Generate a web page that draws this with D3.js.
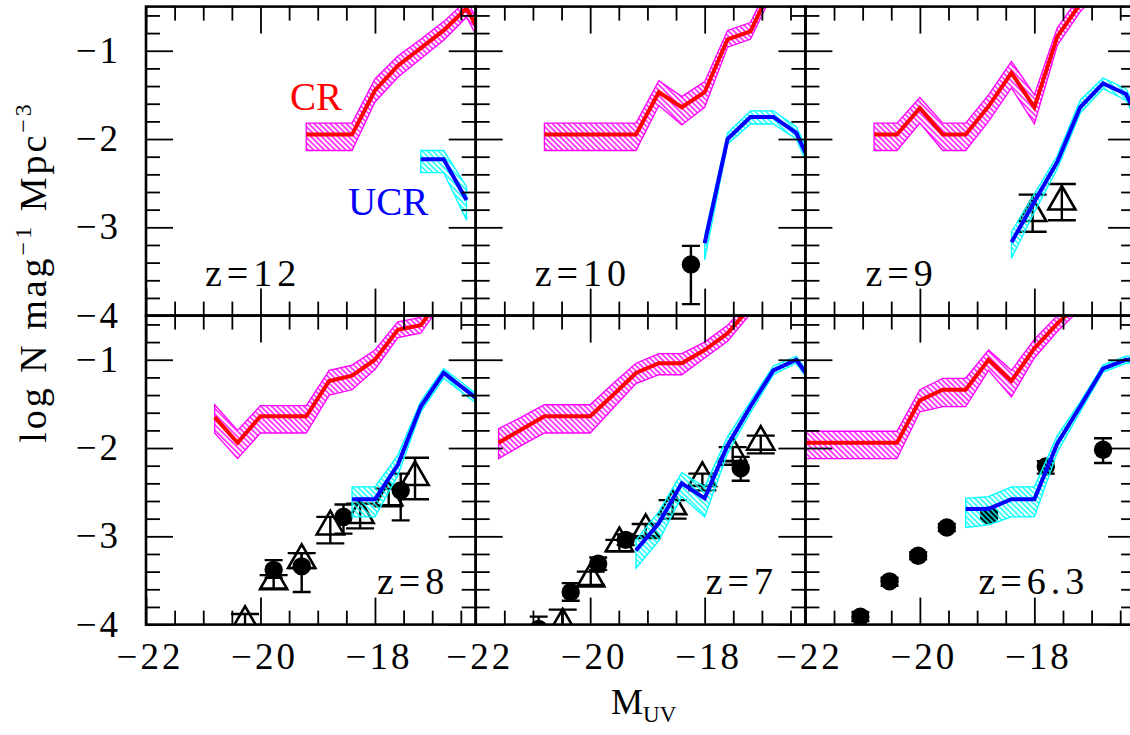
<!DOCTYPE html>
<html><head><meta charset="utf-8">
<script src="https://cdn.jsdelivr.net/npm/d3@7"></script>
<style>
body{margin:0;background:#fff;}
svg text{font-family:"Liberation Serif","DejaVu Serif",serif;}
</style></head><body>
<svg id="chart" width="1130" height="735"></svg>
<script>
// ---- model luminosity functions: [M_UV, log N, upper edge, lower edge] ----
const crZ12 = [[-19.2,-1.95,-1.82,-2.13],[-18.8,-1.95,-1.82,-2.13],[-18.4,-1.95,-1.82,-2.13],[-18.0,-1.45,-1.32,-1.58],[-17.6,-1.17,-1.06,-1.30],[-17.2,-0.97,-0.87,-1.09],[-16.8,-0.77,-0.67,-0.88],[-16.4,-0.52,-0.43,-0.62],[-16.0,-1.0,-0.9,-1.1]];
const ucrZ12 = [[-17.2,-2.23,-2.13,-2.38],[-16.8,-2.23,-2.13,-2.38],[-16.4,-2.69,-2.54,-2.92]];

const crZ10 = [[-20.8,-1.95,-1.82,-2.13],[-20.4,-1.95,-1.82,-2.13],[-20.0,-1.95,-1.82,-2.13],[-19.6,-1.95,-1.82,-2.13],[-19.2,-1.95,-1.82,-2.13],[-18.8,-1.47,-1.34,-1.62],[-18.4,-1.64,-1.52,-1.84],[-18.0,-1.47,-1.35,-1.64],[-17.6,-0.87,-0.77,-0.96],[-17.2,-0.78,-0.68,-0.87],[-16.8,-0.24,-0.15,-0.33],[-16.4,-0.10,-0.02,-0.18]];
const ucrZ10 = [[-18.0,-3.18,-3.10,-3.37],[-17.6,-2.00,-1.93,-2.06],[-17.2,-1.75,-1.68,-1.83],[-16.8,-1.75,-1.68,-1.83],[-16.4,-1.93,-1.86,-2.00],[-16.0,-2.49,-2.40,-2.60]];

const crZ9 = [[-20.8,-1.95,-1.82,-2.13],[-20.4,-1.95,-1.82,-2.13],[-20.0,-1.65,-1.53,-1.82],[-19.6,-1.95,-1.82,-2.13],[-19.2,-1.95,-1.82,-2.13],[-18.8,-1.63,-1.50,-1.80],[-18.4,-1.25,-1.12,-1.42],[-18.0,-1.64,-1.50,-1.83],[-17.6,-0.84,-0.74,-0.94],[-17.2,-0.47,-0.38,-0.56],[-16.8,-0.20,-0.12,-0.28]];
const ucrZ9 = [[-18.4,-3.17,-3.05,-3.35],[-18.0,-2.71,-2.62,-2.83],[-17.6,-2.26,-2.19,-2.34],[-17.2,-1.64,-1.56,-1.71],[-16.8,-1.37,-1.31,-1.43],[-16.4,-1.49,-1.43,-1.56],[-16.0,-2.00,-1.92,-2.08]];

const crZ8 = [[-20.8,-1.65,-1.51,-1.83],[-20.4,-1.94,-1.80,-2.12],[-20.0,-1.64,-1.52,-1.83],[-19.6,-1.64,-1.52,-1.83],[-19.2,-1.64,-1.52,-1.83],[-18.8,-1.24,-1.12,-1.40],[-18.4,-1.18,-1.06,-1.34],[-18.0,-1.00,-0.89,-1.11],[-17.6,-0.66,-0.57,-0.75],[-17.2,-0.61,-0.52,-0.70],[-16.8,-0.25,-0.17,-0.33]];
const ucrZ8 = [[-18.4,-2.58,-2.44,-2.78],[-18.0,-2.58,-2.44,-2.78],[-17.6,-2.19,-2.08,-2.31],[-17.2,-1.53,-1.47,-1.59],[-16.8,-1.15,-1.10,-1.21],[-16.4,-1.35,-1.30,-1.41],[-16.0,-1.55,-1.50,-1.61]];

const crZ7 = [[-21.6,-1.94,-1.78,-2.12],[-21.2,-1.79,-1.65,-1.97],[-20.8,-1.64,-1.51,-1.83],[-20.4,-1.64,-1.51,-1.83],[-20.0,-1.64,-1.51,-1.83],[-19.6,-1.40,-1.27,-1.55],[-19.2,-1.15,-1.04,-1.27],[-18.8,-1.04,-0.93,-1.17],[-18.4,-1.04,-0.93,-1.17],[-18.0,-0.89,-0.80,-0.98],[-17.6,-0.70,-0.61,-0.79],[-17.2,-0.40,-0.32,-0.48],[-16.8,-0.10,-0.02,-0.18]];
const ucrZ7 = [[-19.2,-3.16,-3.04,-3.36],[-18.8,-2.85,-2.72,-3.05],[-18.4,-2.40,-2.28,-2.55],[-18.0,-2.57,-2.44,-2.78],[-17.6,-1.97,-1.87,-2.06],[-17.2,-1.53,-1.47,-1.60],[-16.8,-1.12,-1.07,-1.17],[-16.4,-1.00,-0.96,-1.04],[-16.0,-1.36,-1.31,-1.41]];

const crZ63 = [[-22.4,-1.94,-1.81,-2.12],[-22.0,-1.94,-1.81,-2.12],[-21.6,-1.94,-1.81,-2.12],[-21.2,-1.94,-1.81,-2.12],[-20.8,-1.94,-1.81,-2.12],[-20.4,-1.94,-1.81,-2.12],[-20.0,-1.46,-1.34,-1.59],[-19.6,-1.34,-1.21,-1.53],[-19.2,-1.34,-1.21,-1.53],[-18.8,-1.00,-0.89,-1.12],[-18.4,-1.24,-1.12,-1.42],[-18.0,-0.87,-0.77,-0.98],[-17.6,-0.59,-0.50,-0.68],[-17.2,-0.35,-0.27,-0.43]];
const ucrZ63 = [[-19.2,-2.69,-2.57,-2.90],[-18.8,-2.69,-2.55,-2.87],[-18.4,-2.58,-2.44,-2.78],[-18.0,-2.58,-2.44,-2.78],[-17.6,-1.95,-1.86,-2.05],[-17.2,-1.53,-1.48,-1.59],[-16.8,-1.10,-1.06,-1.14],[-16.4,-1.00,-0.96,-1.04],[-16.0,-1.00,-0.96,-1.04]];

// ---- observations: [M_UV, log N, error-bar top, error-bar bottom] ----
const circZ10 = [[-18.24,-3.42,-3.21,-3.87]];
const triZ9 = [[-18.03,-2.84,-2.63,-3.05],[-17.52,-2.71,-2.51,-2.92]];
const circZ8 = [[-19.77,-3.38,-3.27,-3.47],[-19.28,-3.34,-3.19,-3.63],[-18.55,-2.78,-2.64,-2.97],[-17.55,-2.48,-2.29,-2.82]];
const triZ8 = [[-20.27,-3.97,-3.88,-4.10],[-19.77,-3.51,-3.44,-3.59],[-19.28,-3.27,-3.19,-3.36],[-18.78,-2.89,-2.78,-3.08],[-18.26,-2.76,-2.63,-2.91],[-17.76,-2.56,-2.46,-2.66],[-17.30,-2.33,-2.11,-2.58]];
const circZ7 = [[-20.90,-4.05,-3.91,-4.20],[-20.34,-3.63,-3.53,-3.73],[-19.86,-3.31,-3.24,-3.38],[-19.38,-3.04,-2.98,-3.10],[-17.37,-2.23,-2.10,-2.37]];
const triZ7 = [[-20.48,-4.00,-3.83,-4.20],[-19.99,-3.48,-3.40,-3.55],[-19.49,-3.08,-3.04,-3.17],[-19.03,-2.93,-2.86,-3.00],[-18.56,-2.66,-2.59,-2.80],[-18.04,-2.34,-2.29,-2.48],[-17.51,-2.06,-1.99,-2.19],[-17.02,-1.93,-1.86,-2.06]];
const circZ63 = [[-21.04,-3.91,-3.86,-3.96],[-20.53,-3.51,-3.47,-3.56],[-20.03,-3.22,-3.18,-3.26],[-19.53,-2.90,-2.86,-2.94],[-18.79,-2.76,-2.72,-2.80],[-17.80,-2.21,-2.15,-2.29],[-16.80,-2.02,-1.89,-2.17]];

// ---- labels and ticks ----
const panelLabels = ["z=12","z=10","z=9","z=8","z=7","z=6.3"];
const xDomain = [-22, -16.24];
const yDomain = [-4, -0.5];
const xMajorTicks = [-22, -20, -18];
const xTickLabels = ["\u221222", "\u221220", "\u221218"];
const yMajorTicks = [-4, -3, -2, -1];
const yTickLabels = ["\u22124", "\u22123", "\u22122", "\u22121"];
const xMinorTicks = d3.range(0, 12).map(i => -22 + i * 0.5);
const yMinorTicks = d3.range(0, 18).map(i => +(-4 + i * 0.2).toFixed(1));

// ---- layout ----
const originX = 146, originY = 6.6, pw = 329.7, ph = 309;
const svg = d3.select("#chart");

const defs = svg.append("defs");
function hatch(id, color) {
  const s = 3.8;
  const p = defs.append("pattern").attr("id", id)
    .attr("patternUnits", "userSpaceOnUse")
    .attr("width", s).attr("height", s)
    .attr("patternTransform", "rotate(45)");
  p.append("line").attr("x1", 0).attr("x2", s).attr("y1", s / 2).attr("y2", s / 2)
    .attr("stroke", color).attr("stroke-width", 1.45);
}
hatch("hatchCR", "#ff00ff");
hatch("hatchUCR", "#00ffff");

const panels = [
  {label: panelLabels[0], cr: crZ12, ucr: ucrZ12, circ: [], tri: [], col: 0, row: 0, lx: 59, ly: 279.5},
  {label: panelLabels[1], cr: crZ10, ucr: ucrZ10, circ: circZ10, tri: [], col: 1, row: 0, lx: 59, ly: 279.5},
  {label: panelLabels[2], cr: crZ9, ucr: ucrZ9, circ: [], tri: triZ9, col: 2, row: 0, lx: 60, ly: 279.5},
  {label: panelLabels[3], cr: crZ8, ucr: ucrZ8, circ: circZ8, tri: triZ8, col: 0, row: 1, lx: 231, ly: 278},
  {label: panelLabels[4], cr: crZ7, ucr: ucrZ7, circ: circZ7, tri: triZ7, col: 1, row: 1, lx: 230, ly: 278},
  {label: panelLabels[5], cr: crZ63, ucr: ucrZ63, circ: circZ63, tri: [], col: 2, row: 1, lx: 173, ly: 278}
];

const x = d3.scaleLinear().domain(xDomain).range([0, pw]);
const y = d3.scaleLinear().domain(yDomain).range([ph, 0]);

const band = d3.area().x(d => x(d[0])).y0(d => y(d[3])).y1(d => y(d[2]));
const line = d3.line().x(d => x(d[0])).y(d => y(d[1]));

panels.forEach((p, i) => {
  const g = svg.append("g")
    .attr("transform", `translate(${originX + p.col * pw},${originY + p.row * ph})`);
  defs.append("clipPath").attr("id", "clip" + i)
    .append("rect").attr("width", pw).attr("height", ph);
  const plot = g.append("g").attr("clip-path", `url(#clip${i})`);

  // observed points with error bars
  const obs = plot.append("g").attr("stroke", "#000").attr("stroke-width", 2.4);
  const drawBars = (data, cap) => {
    data.forEach(d => {
      const cx = x(d[0]);
      obs.append("line").attr("x1", cx).attr("x2", cx).attr("y1", y(d[2])).attr("y2", y(d[3]));
      obs.append("line").attr("x1", cx - cap).attr("x2", cx + cap).attr("y1", y(d[2])).attr("y2", y(d[2]));
      obs.append("line").attr("x1", cx - cap).attr("x2", cx + cap).attr("y1", y(d[3])).attr("y2", y(d[3]));
    });
  };
  drawBars(p.circ, 9);
  drawBars(p.tri, 14);
  obs.selectAll("circle").data(p.circ).join("circle")
    .attr("cx", d => x(d[0])).attr("cy", d => y(d[1])).attr("r", 9.2)
    .attr("fill", "#000").attr("stroke", "none");
  const tri = d3.symbol().type(d3.symbolTriangle).size(320);
  obs.selectAll("path.tri").data(p.tri).join("path").attr("class", "tri")
    .attr("d", tri).attr("transform", d => `translate(${x(d[0])},${y(d[1])})`)
    .attr("fill", "none").attr("stroke", "#000").attr("stroke-width", 2.6);

  // model uncertainty bands
  plot.append("path").datum(p.cr).attr("d", band)
    .attr("fill", "url(#hatchCR)").attr("stroke", "#ff00ff").attr("stroke-width", 1.3);
  plot.append("path").datum(p.ucr).attr("d", band)
    .attr("fill", "url(#hatchUCR)").attr("stroke", "#00ffff").attr("stroke-width", 1.3);

  // model curves
  plot.append("path").datum(p.cr).attr("d", line)
    .attr("fill", "none").attr("stroke", "#ff0000").attr("stroke-width", 4);
  plot.append("path").datum(p.ucr).attr("d", line)
    .attr("fill", "none").attr("stroke", "#0000ff").attr("stroke-width", 4);

  // ticks on all four sides, pointing inward
  const tickAxes = [
    [d3.axisBottom(x), `translate(0,${ph})`, xMajorTicks, xMinorTicks],
    [d3.axisTop(x), null, xMajorTicks, xMinorTicks],
    [d3.axisLeft(y), null, yMajorTicks, yMinorTicks],
    [d3.axisRight(y), `translate(${pw},0)`, yMajorTicks, yMinorTicks]
  ];
  tickAxes.forEach(([ax, tr, maj, min]) => {
    [[maj, 27], [min.filter(v => !maj.includes(v)), 14]].forEach(([vals, len]) => {
      const a = g.append("g").call(ax.tickValues(vals).tickSize(-len).tickSizeOuter(0).tickFormat(""));
      if (tr) a.attr("transform", tr);
      a.select(".domain").remove();
      a.selectAll("line").attr("stroke", "#000").attr("stroke-width", 1.8);
    });
  });

  g.append("rect").attr("width", pw).attr("height", ph)
    .attr("fill", "none").attr("stroke", "#000").attr("stroke-width", 2.6);

  g.append("text").attr("x", p.lx).attr("y", p.ly)
    .attr("font-size", 38).attr("letter-spacing", 5).attr("fill", "#000").text(p.label);

  if (i === 0) {
    g.append("text").attr("x", 144).attr("y", 103.5).attr("font-size", 39)
      .attr("fill", "#ff0000").text("CR");
    g.append("text").attr("x", 202).attr("y", 208.5).attr("font-size", 39)
      .attr("fill", "#0000ff").text("UCR");
  }

  // tick labels
  if (p.row === 1) {
    xMajorTicks.forEach((v, k) => {
      g.append("text").attr("x", x(v) + 4).attr("y", ph + 44)
        .attr("text-anchor", "middle").attr("font-size", 37).attr("letter-spacing", 3)
        .text(xTickLabels[k]);
    });
  }
  if (p.col === 0) {
    yMajorTicks.forEach((v, k) => {
      g.append("text").attr("x", -25).attr("y", y(v) + 12)
        .attr("text-anchor", "end").attr("font-size", 37).attr("letter-spacing", 3)
        .text(yTickLabels[k]);
    });
  }
});

// axis titles
const xt = svg.append("text").attr("x", 611).attr("y", 714).attr("font-size", 36);
xt.append("tspan").text("M");
xt.append("tspan").attr("font-size", 23).attr("dy", 8).text("UV");

const yt = svg.append("text")
  .attr("transform", "translate(46,272) rotate(-90)")
  .attr("text-anchor", "middle").attr("font-size", 38).attr("letter-spacing", 3);
yt.append("tspan").text("log N mag");
yt.append("tspan").attr("font-size", 24).attr("dy", -15).text("\u22121");
yt.append("tspan").attr("dy", 15).text(" Mpc");
yt.append("tspan").attr("font-size", 24).attr("dy", -15).text("\u22123");
</script>
</body></html>
